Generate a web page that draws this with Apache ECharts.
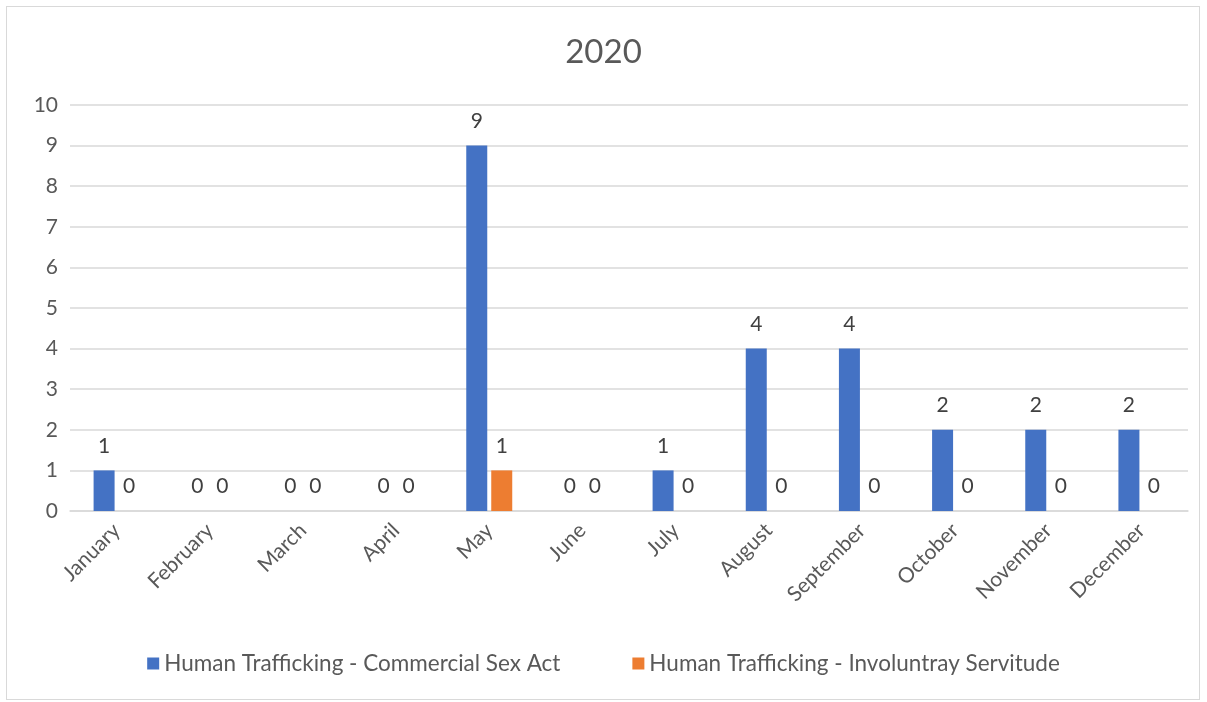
<!DOCTYPE html>
<html><head><meta charset="utf-8">
<script src="https://cdn.jsdelivr.net/npm/echarts@6/dist/echarts.min.js"></script>
<style>html,body{margin:0;padding:0;background:#fff;}#frame{position:absolute;left:6px;top:6px;width:1194px;height:694px;border:1px solid #d9d9d9;box-sizing:border-box;}#c{position:absolute;left:0;top:0;width:1207px;height:702px;}</style>
</head><body><div id="frame"></div><div id="c"></div>
<script>
var categories = ['January','February','March','April','May','June','July','August','September','October','November','December'];
var commercialSex = [1,0,0,0,9,0,1,4,4,2,2,2];
var involuntary = [0,0,0,0,1,0,0,0,0,0,0,0];
var FONT = 'Lato';
var chart = echarts.init(document.getElementById('c'));
var lbl = {show:true, position:'top', distance:14, color:'#404040', fontSize:21, fontFamily:FONT};
chart.setOption({
  animation:false,
  title:{text:'2020', left:'center', top:31, textStyle:{fontSize:33, fontWeight:'normal', color:'#595959', fontFamily:FONT}},
  grid:{left:70, right:19, top:105, bottom:191},
  legend:{bottom:22, left:'center', itemWidth:12, itemHeight:12, itemGap:72, icon:'rect',
    textStyle:{fontSize:22.5, color:'#595959', fontFamily:FONT}},
  xAxis:{type:'category', data:categories,
    axisLine:{lineStyle:{color:'#d9d9d9', width:1.5}}, axisTick:{show:false},
    axisLabel:{rotate:45, interval:0, fontSize:21, color:'#595959', fontFamily:FONT, margin:16}},
  yAxis:{type:'value', min:0, max:10, interval:1,
    axisLine:{show:false}, axisTick:{show:false},
    splitLine:{lineStyle:{color:'#d9d9d9', width:1.5}},
    axisLabel:{fontSize:21, color:'#595959', fontFamily:FONT, margin:12}},
  series:[
    {name:'Human Trafficking - Commercial Sex Act', type:'bar', data:commercialSex, barWidth:21, barGap:'19%',
      itemStyle:{color:'#4472c4'}, label:lbl},
    {name:'Human Trafficking - Involuntray Servitude', type:'bar', data:involuntary, barWidth:21,
      itemStyle:{color:'#ed7d31'}, label:lbl}
  ]
});
</script></body></html>
